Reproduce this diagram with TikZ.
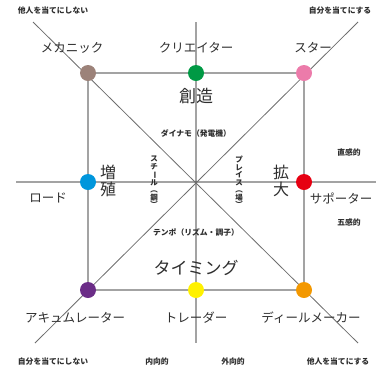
\documentclass[tikz,border=0pt]{standalone}
\usepackage{fontspec}
\setmainfont{Noto Sans CJK JP}
\usepackage{graphicx}
\definecolor{cBrown}{HTML}{9C8279}
\definecolor{cGreen}{HTML}{009944}
\definecolor{cPink}{HTML}{EC7BAA}
\definecolor{cBlue}{HTML}{0096DC}
\definecolor{cRed}{HTML}{E60012}
\definecolor{cPurple}{HTML}{6B2D87}
\definecolor{cYellow}{HTML}{FFF100}
\definecolor{cOrange}{HTML}{F39800}
\definecolor{cLine}{HTML}{A3A3A3}
\definecolor{cDiag}{HTML}{6E6E6E}
\definecolor{cText}{HTML}{2E2E2E}
\newcommand{\vbar}{\rotatebox[origin=c]{-90}{ー}}
\tikzset{
  gline/.style={cLine, line width=1.3pt},
  dline/.style={cDiag, line width=0.8pt},
  dot/.style={circle, inner sep=0pt, minimum size=16pt},
  role/.style={font=\fontsize{12.5}{12.5}\selectfont, text=cText, inner sep=0pt},
  big/.style={font=\fontsize{17}{17}\selectfont, text=cText, inner sep=0pt},
  bigv/.style={font=\fontsize{16}{17}\selectfont, text=cText, inner sep=0pt, align=center},
  small/.style={font=\fontsize{7.8}{7.8}\selectfont\bfseries, text=cText, inner sep=0pt},
  tiny/.style={font=\fontsize{7.8}{7.8}\selectfont\bfseries, text=cText, inner sep=0pt},
  smallv/.style={font=\fontsize{7.5}{7.5}\selectfont\bfseries, text=cText, inner sep=0pt, align=center},
}
\begin{document}
\begin{tikzpicture}[x=1pt,y=-1pt]
\useasboundingbox (0,0) rectangle (382,368);
% axis end points
\coordinate (tl) at (33,22);
\coordinate (tr) at (358,22);
\coordinate (bl) at (35,343);
\coordinate (br) at (358,343);
\coordinate (L) at (16,182);
\coordinate (R) at (376,182);
\coordinate (T) at (196,22);
\coordinate (B) at (196,343);
\coordinate (C) at (196,182);
% dots positions
\coordinate (pBrown) at (88,73);
\coordinate (pGreen) at (196,73);
\coordinate (pPink) at (304,73);
\coordinate (pBlue) at (88,182);
\coordinate (pRed) at (304,182);
\coordinate (pPurple) at (88,290);
\coordinate (pYellow) at (196,290);
\coordinate (pOrange) at (304,290);
% lines
\draw[gline] (L) -- (R);
\draw[gline] (T) -- (B);
\draw[gline] (pBrown) -- (pPink) -- (pOrange) -- (pPurple) -- cycle;
\draw[dline] (tl) -- (br);
\draw[dline] (tr) -- (bl);
\fill[cDiag] (C) circle (1.3pt);
% dots
\node[dot, fill=cBrown] (nBrown) at (pBrown) {};
\node[dot, fill=cGreen] (nGreen) at (pGreen) {};
\node[dot, fill=cPink] (nPink) at (pPink) {};
\node[dot, fill=cBlue] (nBlue) at (pBlue) {};
\node[dot, fill=cRed] (nRed) at (pRed) {};
\node[dot, fill=cPurple] (nPurple) at (pPurple) {};
\node[dot, fill=cYellow] (nYellow) at (pYellow) {};
\node[dot, fill=cOrange] (nOrange) at (pOrange) {};
% corner labels
\node[tiny] (t1) at (53,11) {他人を当てにしない};
\node[tiny] (t2) at (340,11) {自分を当てにする};
\node[tiny] (t3) at (53,362) {自分を当てにしない};
\node[tiny] (t4) at (157,362) {内向的};
\node[tiny] (t5) at (233,362) {外向的};
\node[tiny] (t6) at (338,362) {他人を当てにする};
\node[tiny] (t7) at (349,152) {直感的};
\node[tiny] (t8) at (349,222) {五感的};
% role labels
\node[role] (r1) at (72,48) {メカニック};
\node[role] (r2) at (196,48) {クリエイター};
\node[role] (r3) at (313,48) {スター};
\node[role] (r4) at (48,198) {ロード};
\node[role] (r5) at (341,198) {サポーター};
\node[role] (r6) at (75,318) {アキュムレーター};
\node[role] (r7) at (196,318) {トレーダー};
\node[role] (r8) at (311,318) {ディールメーカー};
% big labels
\node[big] (b1) at (196,96) {創造};
\node[big] (b2) at (196,268) {タイミング};
\node[bigv] (b3) at (108,181) {増\\殖};
\node[bigv] (b4) at (281,181) {拡\\大};
% inner small labels
\node[small] (s1) at (196,133) {ダイナモ（発電機）};
\node[small] (s2) at (196,232) {テンポ（リズム・調子）};
\node[smallv] (s3) at (154,182) {ス\\チ\\\vbar\\ル\\︵\\鋼\\︶};
\node[smallv] (s4) at (239,182) {プ\\レ\\イ\\ス\\︵\\場\\︶};
\end{tikzpicture}
\end{document}
